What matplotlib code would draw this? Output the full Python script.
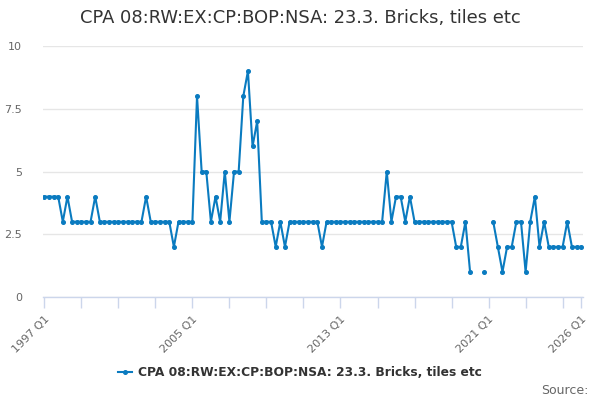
import numpy as np
import matplotlib
matplotlib.use("Agg")
import matplotlib.pyplot as plt
from matplotlib.lines import Line2D

title = "CPA 08:RW:EX:CP:BOP:NSA: 23.3. Bricks, tiles etc"
series_name = "CPA 08:RW:EX:CP:BOP:NSA: 23.3. Bricks, tiles etc"
start_year = 1997
nan = np.nan
values = [
    4, 4, 4, 4, 3, 4, 3, 3, 3, 3, 3, 4,
    3, 3, 3, 3, 3, 3, 3, 3, 3, 3, 4,
    3, 3, 3, 3, 3, 2, 3, 3, 3, 3,
    8, 5, 5, 3, 4, 3, 5, 3, 5, 5, 8, 9, 6, 7,
    3, 3, 3, 2, 3, 2, 3, 3, 3, 3, 3, 3, 3, 2,
    3, 3, 3, 3, 3, 3, 3, 3, 3, 3, 3, 3, 3,
    5, 3, 4, 4, 3, 4,
    3, 3, 3, 3, 3, 3, 3, 3, 3,
    2, 2, 3, 1, nan, nan, 1, nan,
    3, 2, 1, 2, 2, 3, 3, 1, 3, 4, 2, 3,
    2, 2, 2, 2, 3, 2, 2, 2,
]
yticks = [0, 2.5, 5, 7.5, 10]
ytick_labels = ["0", "2.5", "5", "7.5", "10"]
label_years = [1997, 2005, 2013, 2021, 2026]

n = len(values)
x = np.arange(n)
y = np.array(values, dtype=float)

line_color = "#0a7bc0"
fig = plt.figure(figsize=(6, 4), dpi=100)
ax = fig.add_axes([43/600, 1-297/400, 540/600, 251/400])

ax.plot(x, y, color=line_color, lw=1.5, marker="o", ms=2.6, zorder=3)

ax.set_ylim(0, 10)
ax.set_xlim(-0.28, n - 1 + 0.4)
ax.set_yticks(yticks)
ax.set_yticklabels(ytick_labels)
ax.yaxis.grid(True, color="#e6e6e6", lw=1)
ax.set_axisbelow(True)
ax.tick_params(axis="y", length=0, pad=15, labelsize=8, labelcolor="#666666")

tick_pos = [q for q in range(0, n, 8)] + [n - 1]
ax.set_xticks(tick_pos)
lbls = []
for q in tick_pos:
    yr = start_year + q // 4
    qq = q % 4 + 1
    lbls.append(f"{yr} Q{qq}" if yr in label_years and qq == 1 else "")
ax.set_xticklabels(lbls, rotation=45, ha="right", rotation_mode="anchor")
ax.tick_params(axis="x", length=8, width=1, color="#ccd6eb", pad=4, labelsize=8, labelcolor="#666666")

for s in ["top", "right", "left"]:
    ax.spines[s].set_visible(False)
ax.spines["bottom"].set_color("#ccd6eb")
ax.spines["bottom"].set_linewidth(1)

fig.text(0.5, 1-18/400, title, ha="center", va="center", fontsize=12.9, color="#333333")

handle = Line2D([0], [0], color=line_color, lw=1.5, marker="o", ms=2.6)
fig.legend([handle], [series_name], loc="center", bbox_to_anchor=(0.5, 1-373/400),
           frameon=False, prop={"size": 8.8, "weight": "bold"}, labelcolor="#333333",
           handlelength=1.2, handletextpad=0.5)
fig.text(589/600, 1-391/400, "Source:", ha="right", va="center", fontsize=9, color="#666666")

fig.savefig("out.png", dpi=100)
